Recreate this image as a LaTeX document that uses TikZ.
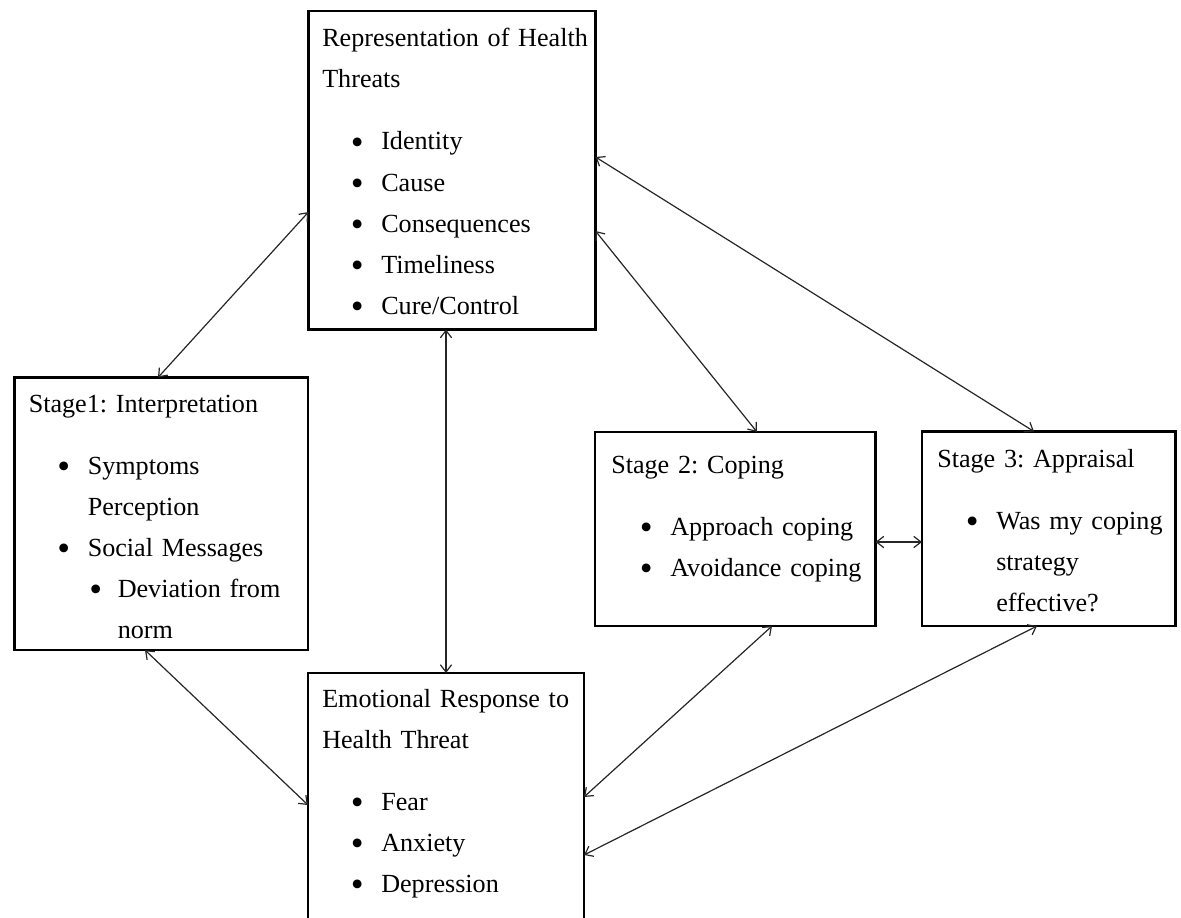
\documentclass[tikz,border=0pt]{standalone}
\usepackage{fontspec}
\setmainfont{Liberation Serif}
\usetikzlibrary{arrows.meta, positioning, calc}
\setlength{\parindent}{0pt}
\frenchspacing

% bullet lines inside the boxes
\newcommand\hdot{\makebox[0pt]{\raisebox{-0.18em}{\scalebox{1.4}{\textbullet}}}}
\newcommand\hgap{\par\vspace{15.75pt}}
\newcommand\hbul[1]{\par\noindent\hspace*{26.25pt}\hdot\hspace*{18pt}#1}
\newcommand\hcont[1]{\par\noindent\hspace*{44.25pt}#1}
\newcommand\hsub[1]{\par\noindent\hspace*{50.25pt}\hdot\hspace*{16.5pt}#1}
\newcommand\hsubcont[1]{\par\noindent\hspace*{66.75pt}#1}

\begin{document}
\begin{tikzpicture}[x=0.75pt, y=-0.75pt,
    hbox/.style = {draw, line width=2pt, anchor=north west, inner sep=0pt, outer sep=0pt},
    htext/.style = {anchor=base west, inner sep=0pt, text width=240pt, align=left,
                    font=\fontsize{19.6}{30.75}\selectfont},
    link/.style = {{Straight Barb[length=5.5pt,width=8.5pt]}-{Straight Barb[length=5.5pt,width=8.5pt]},
                   line width=0.9pt, black!85}]
\useasboundingbox (0,0) rectangle (1181,917);

% boxes
\node[hbox, minimum width=215.25pt, minimum height=238.9pt] (threat) at (308.5,11) {};
\node[hbox, minimum width=220.1pt, minimum height=204.4pt] (interp) at (14.5,377.5) {};
\node[hbox, minimum width=210.4pt, minimum height=145.5pt] (coping) at (595,432) {};
\node[hbox, minimum width=190.1pt, minimum height=145.9pt] (appraisal) at (922,431.5) {};
\node[hbox, minimum width=207pt, minimum height=202.5pt] (emotion) at (308,673) {};

% texts
\node[htext] (threat-text) at ($(threat.north west)+(13.5,36)$)
  {Representation of Health\par Threats\hgap
   \hbul{Identity}\hbul{Cause}\hbul{Consequences}\hbul{Timeliness}\hbul{Cure/Control}};
\node[htext] (interp-text) at ($(interp.north west)+(14,34.5)$)
  {Stage1: Interpretation\hgap
   \hbul{Symptoms}\hcont{Perception}\hbul{Social Messages}
   \hsub{Deviation from}\hsubcont{norm}};
\node[htext] (coping-text) at ($(coping.north west)+(16,41)$)
  {Stage 2: Coping\hgap
   \hbul{Approach coping}\hbul{Avoidance coping}};
\node[htext] (appraisal-text) at ($(appraisal.north west)+(15,35.5)$)
  {Stage 3: Appraisal\hgap
   \hbul{Was my coping}\hcont{strategy}\hcont{effective?}};
\node[htext] (emotion-text) at ($(emotion.north west)+(14,34)$)
  {Emotional Response to\par Health Threat\hgap
   \hbul{Fear}\hbul{Anxiety}\hbul{Depression}};

% links
\draw[link] ($(threat.north west)+(0,201)$) -- ($(interp.north west)+(143.5,0)$);
\draw[link] (threat.south -| emotion.north) -- (emotion.north);
\draw[link] ($(threat.north east)+(0,146)$) -- ($(appraisal.north west)+(112,0)$);
\draw[link] ($(threat.north east)+(0,220)$) -- ($(coping.north west)+(162,0)$);
\coordinate (mid) at ($(coping.north east)+(0,110)$);
\draw[link] (mid) -- (mid -| appraisal.west);
\draw[link] ($(interp.south west)+(130.5,0)$) -- ($(emotion.north west)+(0,132)$);
\draw[link] ($(coping.south west)+(177,0)$) -- ($(emotion.north east)+(0,124)$);
\draw[link] ($(appraisal.south west)+(115,0)$) -- ($(emotion.north east)+(0,182)$);
\end{tikzpicture}
\end{document}
